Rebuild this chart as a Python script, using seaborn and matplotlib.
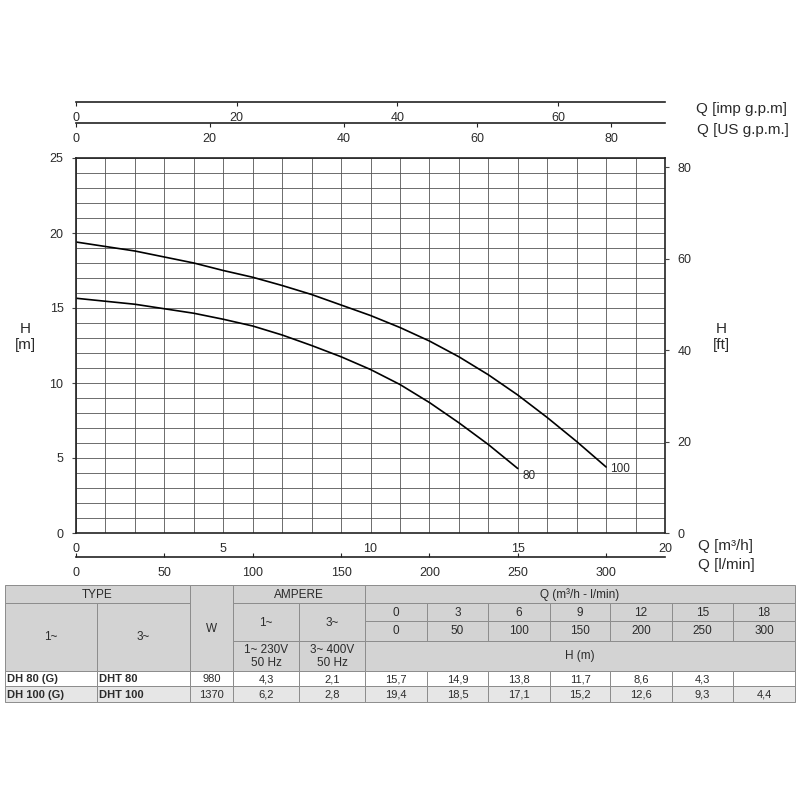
import numpy as np
import matplotlib
matplotlib.use("Agg")
import matplotlib.pyplot as plt
import pandas as pd
import seaborn as sns
from matplotlib.patches import Rectangle

#%% Datos de la tabla
q_m3h = [0, 3, 6, 9, 12, 15, 18]
q_lmin = [0, 50, 100, 150, 200, 250, 300]
h_dh80 = [15.7, 14.9, 13.8, 11.7, 8.6, 4.3, np.nan]
h_dh100 = [19.4, 18.5, 17.1, 15.2, 12.6, 9.3, 4.4]
models_1ph = ["DH 80 (G)", "DH 100 (G)"]
models_3ph = ["DHT 80", "DHT 100"]
watts = [980, 1370]
amp_1ph = [4.3, 6.2]
amp_3ph = [2.1, 2.8]

#%% Curvas (cada 1 m3/h)
curve_names = ["80", "100"]
curve_q80 = list(range(0, 16))
curve_h80 = [15.65, 15.45, 15.25, 14.95, 14.65, 14.25, 13.8, 13.2, 12.5, 11.75,
             10.9, 9.9, 8.7, 7.35, 5.9, 4.3]
curve_q100 = list(range(0, 19))
curve_h100 = [19.4, 19.1, 18.8, 18.4, 18.0, 17.5, 17.05, 16.5, 15.9, 15.2,
              14.5, 13.7, 12.8, 11.75, 10.55, 9.2, 7.7, 6.1, 4.4]

# conversiones desde m3/h y m
IMP_GPM = 3.6662
US_GPM = 4.4029
L_MIN = 16.6667
FT = 3.28084

df = pd.DataFrame({"Q": curve_q80 + curve_q100,
                   "H": curve_h80 + curve_h100,
                   "modelo": [curve_names[0]] * len(curve_q80) + [curve_names[1]] * len(curve_q100)})

sns.set_style("white")
plt.rcParams["font.family"] = ["Liberation Sans", "DejaVu Sans"]
txt = "#2b2b2b"
grid_c = "#555555"

fig = plt.figure(figsize=(8, 8), dpi=100)

def fx(px):
    return px / 800

def fy(py):
    return 1 - py / 800

L, R, T, B = 76, 665, 158, 533
ax = fig.add_axes([fx(L), fy(B), fx(R - L), fy(T) - fy(B)])
sns.lineplot(data=df, x="Q", y="H", units="modelo", estimator=None,
             color="black", lw=1.2, ax=ax, sort=False)
ax.set_xlim(0, 20)
ax.set_ylim(0, 25)
ax.set_xticks(range(0, 21, 5))
ax.set_xticks(range(0, 21), minor=True)
ax.set_yticks(range(0, 26, 5))
ax.set_yticks(range(0, 26), minor=True)
ax.grid(which="both", color=grid_c, lw=0.6)
ax.set_xlabel("")
ax.set_ylabel("")
for s in ax.spines.values():
    s.set_color("#222222")
    s.set_linewidth(1.2)
ax.tick_params(axis="x", which="both", length=0, pad=7, labelsize=9, labelcolor=txt)
ax.tick_params(axis="y", which="major", length=3, width=0.8, pad=6, labelsize=9,
               labelcolor=txt, left=True, color="#444")
ax.tick_params(axis="y", which="minor", length=0)

# etiquetas de curvas
for name, q, h, dy in [(curve_names[0], curve_q80, curve_h80, -0.5),
                       (curve_names[1], curve_q100, curve_h100, -0.15)]:
    ax.text(q[-1] + 0.15, h[-1] + dy, name, fontsize=8.5,
            color=txt, ha="left", va="center")

# eje derecho ft
axr = ax.twinx()
axr.set_ylim(0, 25 * FT)
axr.set_yticks(range(0, 81, 20))
axr.tick_params(axis="y", length=3, width=0.8, pad=6, labelsize=9,
                labelcolor=txt, right=True, color="#444")
axr.grid(False)
for s in axr.spines.values():
    s.set_visible(False)

def extra_axis(py, factor, ticks, direction, length, pad):
    a = fig.add_axes([fx(L), fy(py), fx(R - L), 0.0001])
    a.set_xlim(0, 20 * factor)
    a.set_xticks(ticks)
    a.set_yticks([])
    a.patch.set_visible(False)
    for k in ["top", "left", "right"]:
        a.spines[k].set_visible(False)
    a.spines["bottom"].set_color("#222222")
    a.spines["bottom"].set_linewidth(1.2)
    a.tick_params(axis="x", direction=direction, length=length, width=0.8,
                  pad=pad, labelsize=9, labelcolor=txt, bottom=True, color="#222")
    return a

extra_axis(102, IMP_GPM, range(0, 61, 20), "out", 3, 4)
extra_axis(123, US_GPM, range(0, 81, 20), "out", 3, 4)
extra_axis(557, L_MIN, range(0, 301, 50), "in", 3, 7)

fs_lab = 11
fig.text(fx(25), fy(337), "H\n[m]", ha="center", va="center", fontsize=fs_lab,
         color=txt, linespacing=1.2)
fig.text(fx(721), fy(337), "H\n[ft]", ha="center", va="center", fontsize=fs_lab,
         color=txt, linespacing=1.2)
fig.text(fx(696), fy(109), "Q [imp g.p.m]", ha="left", va="center", fontsize=fs_lab, color=txt)
fig.text(fx(697), fy(130), "Q [US g.p.m.]", ha="left", va="center", fontsize=fs_lab, color=txt)
fig.text(fx(698), fy(546), "Q [m³/h]", ha="left", va="center", fontsize=fs_lab, color=txt)
fig.text(fx(698), fy(565), "Q [l/min]", ha="left", va="center", fontsize=fs_lab, color=txt)

#%% Tabla
tab = fig.add_axes([0, 0, 1, 1], zorder=-1)
tab.set_xlim(0, 800)
tab.set_ylim(800, 0)
tab.axis("off")

cx = [5, 97, 190, 233, 299, 365, 427, 488, 550, 610, 672, 733, 795]
ry = [585, 603, 621, 641, 671, 686, 702]
head_c = "#d3d3d3"
alt_c = "#e6e6e6"
edge_c = "#8c8c8c"

def cell(c0, c1, r0, r1, text="", fill=head_c, ha="center", size=8.5, weight="normal"):
    x0, x1, y0, y1 = cx[c0], cx[c1], ry[r0], ry[r1]
    tab.add_patch(Rectangle((x0, y0), x1 - x0, y1 - y0, facecolor=fill,
                            edgecolor=edge_c, lw=0.7))
    if text != "":
        xt = (x0 + x1) / 2 if ha == "center" else x0 + 2
        tab.text(xt, (y0 + y1) / 2 + 0.5, text, ha=ha, va="center", fontsize=size,
                 color=txt, fontweight=weight, linespacing=1.1)

def comma(v):
    return f"{v:.1f}".replace(".", ",")

cell(0, 2, 0, 1, "TYPE")
cell(0, 1, 1, 4, "1~")
cell(1, 2, 1, 4, "3~")
cell(2, 3, 0, 4, "W")
cell(3, 5, 0, 1, "AMPERE")
cell(3, 4, 1, 3, "1~")
cell(4, 5, 1, 3, "3~")
cell(3, 4, 3, 4, "1~ 230V\n50 Hz")
cell(4, 5, 3, 4, "3~ 400V\n50 Hz")
cell(5, 12, 0, 1, "Q (m³/h - l/min)")
for i in range(len(q_m3h)):
    cell(5 + i, 6 + i, 1, 2, str(q_m3h[i]))
    cell(5 + i, 6 + i, 2, 3, str(q_lmin[i]))
cell(5, 12, 3, 4, "H (m)")

heads = [h_dh80, h_dh100]
for r in range(2):
    fill = "white" if r == 0 else alt_c
    row = 4 + r
    cell(0, 1, row, row + 1, models_1ph[r], fill, ha="left", size=8, weight="bold")
    cell(1, 2, row, row + 1, models_3ph[r], fill, ha="left", size=8, weight="bold")
    cell(2, 3, row, row + 1, str(watts[r]), fill, size=8)
    cell(3, 4, row, row + 1, comma(amp_1ph[r]), fill, size=8)
    cell(4, 5, row, row + 1, comma(amp_3ph[r]), fill, size=8)
    for i, v in enumerate(heads[r]):
        cell(5 + i, 6 + i, row, row + 1, "" if np.isnan(v) else comma(v), fill, size=8)

fig.savefig("out.png", dpi=100, facecolor="white")
